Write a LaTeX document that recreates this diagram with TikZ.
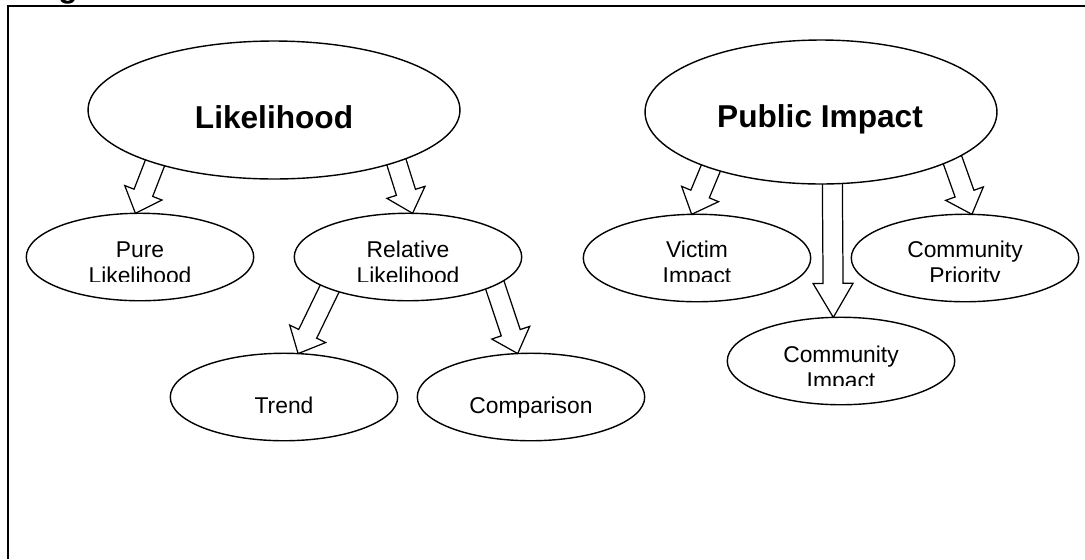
\documentclass[tikz,border=0pt]{standalone}
\usepackage{fontspec}
\setmainfont{Liberation Sans}
\usetikzlibrary{shapes.geometric,calc,backgrounds}

\tikzset{
  bubble/.style={ellipse, draw, fill=white, line width=0.8pt, inner sep=0pt, outer sep=0pt},
  leaf/.style={bubble, minimum width=4.55cm, minimum height=1.75cm},
  bigtext/.style={font=\bfseries\fontsize{18pt}{21pt}\selectfont, anchor=base, inner sep=0pt},
  smalltext/.style={font=\fontsize{13pt}{14.8pt}\selectfont, anchor=base, align=center, inner sep=0pt},
  blockarr/.style={draw, fill=white, line width=0.7pt, line join=miter}
}

% hollow block arrow: [head length]{start on parent}{tip on child}
\newcommand{\blockarrow}[3][0.44cm]{%
  \coordinate (ba-s) at ($(#3)!1.3!(#2)$);
  \coordinate (ba-h) at ($(#3)!#1!(#2)$);
  \draw[blockarr] ($(ba-s)!0.2cm!90:(#3)$) -- ($(ba-h)!0.2cm!90:(#3)$)
    -- ($(ba-h)!0.4cm!90:(#3)$) -- (#3) -- ($(ba-h)!0.4cm!-90:(#3)$)
    -- ($(ba-h)!0.2cm!-90:(#3)$) -- ($(ba-s)!0.2cm!-90:(#3)$) -- cycle;
}

\begin{document}
\begin{tikzpicture}[x=0.02cm, y=-0.02cm]
  \useasboundingbox (0,0) rectangle (1085,559);

  % frame and cut caption
  \draw[line width=1.2pt] (8,559) -- (8,6) -- (1085,6);
  \node[bigtext, anchor=base west] (fig-l) at (30,-3) {Figure};

  % top level
  \node[bubble, minimum width=7.44cm, minimum height=2.76cm] (lik) at (274,110) {};
  \node[bubble, minimum width=7.04cm, minimum height=2.88cm] (pub) at (821,112) {};
  \node[bigtext] (lik-l) at (274,128) {Likelihood};
  \node[bigtext] (pub-l) at (820,127) {Public Impact};

  % second level
  \node[leaf] (pure) at (140,257) {};
  \node[leaf] (rel) at (408,257) {};
  \node[leaf] (victim) at (697,258) {};
  \node[leaf] (prio) at (965,258) {};
  \node[leaf] (cimp) at (841,361) {};

  % third level
  \node[leaf] (trend) at (284,397) {};
  \node[leaf] (comp) at (531,397) {};
  \node[smalltext] (trend-l) at (284,413) {Trend};
  \node[smalltext] (comp-l) at (531,413) {Comparison};

  % labels cut off by their boxes (base = second line)
  \begin{scope}
    \clip (0,0) rectangle (1085,281);
    \node[smalltext] (pure-l) at (140,283) {Pure\\Likelihood};
    \node[smalltext] (rel-l) at (408,283) {Relative\\Likelihood};
    \node[smalltext] (victim-l) at (697,283) {Victim\\Impact};
    \node[smalltext] (prio-l) at (965,283) {Community\\Priority};
  \end{scope}
  \begin{scope}
    \clip (0,300) rectangle (1085,385);
    \node[smalltext] (cimp-l) at (841,388) {Community\\Impact};
  \end{scope}

  % arrows
  \begin{pgfonlayer}{background}
    \blockarrow{lik.204}{pure.96}
    \blockarrow{lik.337}{rel.84}
    \blockarrow{rel.202}{trend.72}
    \blockarrow{rel.342}{comp.107}
    \blockarrow{pub.207}{victim.97}
    \blockarrow[0.68cm]{pub.279.5}{cimp.100}
    \blockarrow{pub.340}{prio.81}
  \end{pgfonlayer}
\end{tikzpicture}
\end{document}
